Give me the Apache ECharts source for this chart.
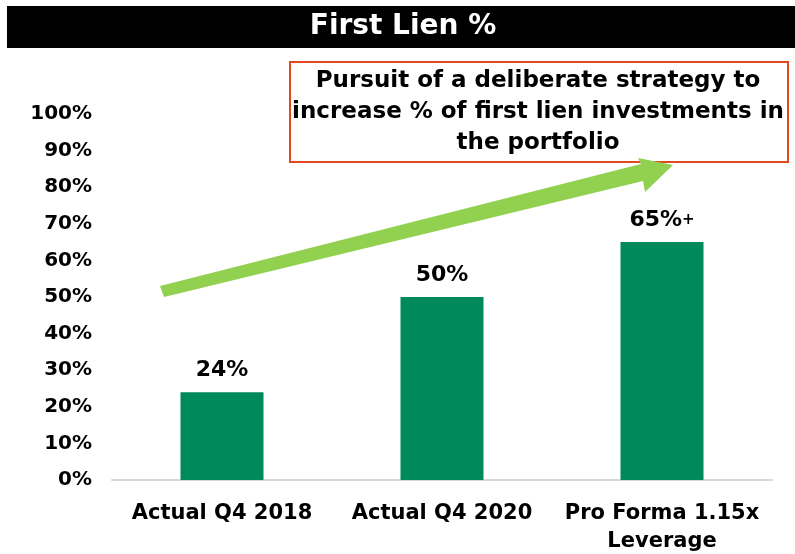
<!DOCTYPE html>
<html>
<head>
<meta charset="utf-8">
<script src="https://cdn.jsdelivr.net/npm/echarts@6/dist/echarts.min.js"></script>
<style>
  html, body { margin: 0; padding: 0; background: #fff; }
  #chart { width: 795px; height: 554px; }
</style>
</head>
<body>
<div id="chart"></div>
<script>
// data
var categories = ['Actual Q4 2018', 'Actual Q4 2020', 'Pro Forma 1.15x\nLeverage'];
var values = [24, 50, 65];
var valueLabels = ['24%', '50%', '65%{s|+}'];
var yTicks = [0, 10, 20, 30, 40, 50, 60, 70, 80, 90, 100];

var font = '"DejaVu Sans", sans-serif';

var chartDom = document.getElementById('chart');
var myChart = echarts.init(chartDom);

var option = {
    animation: false,
    grid: { left: 112, right: 23, top: 114, bottom: 74, outerBoundsMode: 'none', containLabel: false },
    xAxis: {
        type: 'category',
        data: categories,
        axisTick: { show: false },
        axisLine: { lineStyle: { color: '#D9D9D9', width: 2 } },
        axisLabel: {
            color: '#000', fontWeight: 'bold', fontSize: 21, fontFamily: font,
            margin: 20, lineHeight: 28, interval: 0
        }
    },
    yAxis: {
        type: 'value',
        min: yTicks[0],
        max: yTicks[yTicks.length - 1],
        interval: 10,
        splitLine: { show: false },
        axisLine: { show: false },
        axisTick: { show: false },
        axisLabel: {
            color: '#000', fontWeight: 'bold', fontSize: 20, fontFamily: font,
            margin: 20, formatter: '{value}%'
        }
    },
    series: [{
        type: 'bar',
        data: values,
        barWidth: 83,
        itemStyle: { color: '#008A5C' },
        label: {
            show: true,
            position: 'top',
            distance: 11,
            color: '#000', fontWeight: 'bold', fontSize: 22, fontFamily: font,
            formatter: function (p) { return valueLabels[p.dataIndex]; },
            rich: { s: { fontSize: 15, fontWeight: 'bold', fontFamily: font, color: '#000' } }
        }
    }],
    graphic: [
        // title bar
        { type: 'rect', shape: { x: 7, y: 6, width: 788, height: 42 }, style: { fill: '#000' } },
        {
            type: 'text', x: 403, y: 27,
            style: {
                text: 'First Lien %', fill: '#fff', font: 'bold 28px ' + font,
                align: 'center', verticalAlign: 'middle'
            }
        },
        // annotation box
        {
            type: 'rect', shape: { x: 290, y: 62, width: 498, height: 100 },
            style: { fill: '#fff', stroke: '#E2491F', lineWidth: 2 }
        },
        {
            type: 'text', x: 538, y: 112,
            style: {
                text: 'Pursuit of a deliberate strategy to\nincrease % of first lien investments in\nthe portfolio',
                fill: '#000', font: 'bold 23px ' + font, lineHeight: 31,
                align: 'center', verticalAlign: 'middle'
            }
        },
        // green arrow
        {
            type: 'polygon', z: 10,
            shape: {
                points: [[160, 286], [641, 164], [638, 158], [673, 165], [645, 192], [643, 181], [164, 297]]
            },
            style: { fill: '#92D050' }
        }
    ]
};
myChart.setOption(option);
</script>
</body>
</html>
